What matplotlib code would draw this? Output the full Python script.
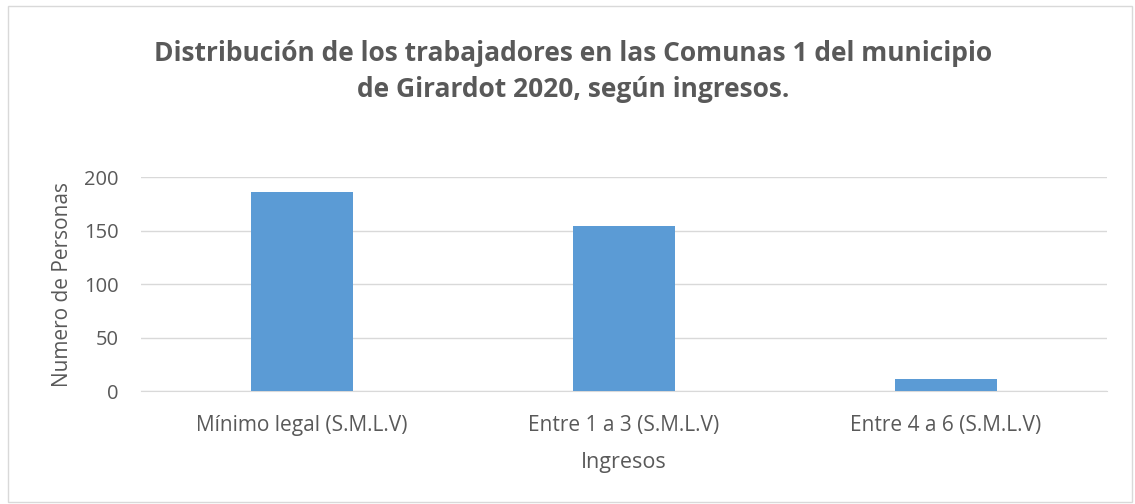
import matplotlib.pyplot as plt

# income categories and number of workers
categorias = ['Mínimo legal (S.M.L.V)', 'Entre 1 a 3 (S.M.L.V)', 'Entre 4 a 6 (S.M.L.V)']
personas = [186, 154, 11]

plt.rcParams['font.family'] = ['Open Sans', 'DejaVu Sans']
gris = '#595959'

fig = plt.figure(figsize=(11.35, 5.04), dpi=100)
ax = fig.add_axes([0.1242, 0.2242, 0.8511, 0.4246])

ax.bar(range(len(categorias)), personas, width=0.314, color='#5b9bd5', zorder=3)

ax.set_xlim(-0.5, 2.5)
ax.set_ylim(0, 200)
ax.set_yticks([0, 50, 100, 150, 200])
ax.set_xticks(range(len(categorias)))
ax.set_xticklabels(categorias)
ax.tick_params(axis='x', length=0, labelsize=15, colors=gris, pad=17)
ax.tick_params(axis='y', length=0, labelsize=14.5, colors=gris, pad=16)
ax.grid(axis='y', color='#d9d9d9', linewidth=1, zorder=0)
for s in ['top', 'right', 'left']:
    ax.spines[s].set_visible(False)
ax.spines['bottom'].set_color('#d9d9d9')

ax.set_ylabel('Numero de Personas', fontsize=15, color=gris, labelpad=8)
ax.set_xlabel('Ingresos', fontsize=15.5, color=gris, labelpad=12)

fig.text(0.505, 0.858, 'Distribución de los trabajadores en las Comunas 1 del municipio\nde Girardot 2020, según ingresos.',
         ha='center', va='center', fontsize=19, fontweight='bold', color=gris, linespacing=1.45)

# outer border
fig.patches.append(plt.Rectangle((0.007, 0.004), 0.99, 0.984, transform=fig.transFigure,
                                 fill=False, edgecolor='#d9d9d9', linewidth=1))

fig.savefig('out.png', dpi=100)
